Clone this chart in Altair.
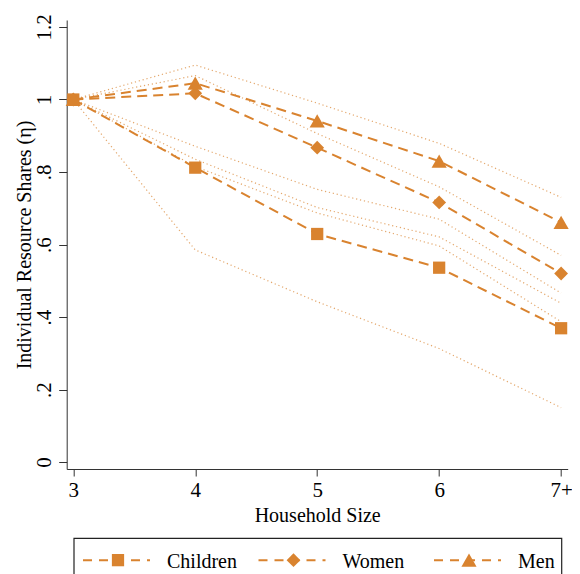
import altair as alt
import pandas as pd

# ---------------- data ----------------
sizes = ["3", "4", "5", "6", "7+"]
size_pos = [3, 4, 5, 6, 7]
groups = ["Children", "Women", "Men"]
shapes = ["square", "diamond", "triangle-up"]

children = [1.0, 0.812, 0.629, 0.536, 0.369]
women = [1.0, 1.017, 0.867, 0.716, 0.520]
men = [1.0, 1.045, 0.941, 0.830, 0.661]

bound_1 = [1.0, 1.095, 0.990, 0.879, 0.730]
bound_2 = [1.0, 1.066, 0.906, 0.759, 0.570]
bound_3 = [1.0, 0.871, 0.752, 0.670, 0.466]
bound_4 = [1.0, 0.835, 0.702, 0.621, 0.438]
bound_5 = [1.0, 0.815, 0.687, 0.596, 0.387]
bound_6 = [1.0, 0.585, 0.442, 0.313, 0.150]

y_ticks = [0, 0.2, 0.4, 0.6, 0.8, 1.0, 1.2]
y_tick_labels = ["0", ".2", ".4", ".6", ".8", "1", "1.2"]

# ---------------- styling ----------------
ORANGE = "#D9832F"
FONT = "Liberation Serif"
FS_LAB = 21
FS_TIT = 20
W, H = 501, 449

series = {"Children": children, "Women": women, "Men": men}
rows = []
for g, vals in series.items():
    for p, lab, v in zip(size_pos, sizes, vals):
        rows.append({"pos": p, "size": lab, "group": g, "value": v})
df = pd.DataFrame(rows)

bounds = [bound_1, bound_2, bound_3, bound_4, bound_5, bound_6]
brows = []
for i, vals in enumerate(bounds):
    for p, v in zip(size_pos, vals):
        brows.append({"pos": p, "bound": f"b{i+1}", "value": v})
bdf = pd.DataFrame(brows)

x_label_expr = " : ".join([f"datum.value == {p} ? '{s}'" for p, s in zip(size_pos, sizes)]) + " : datum.label"
y_label_expr = " : ".join([f"abs(datum.value - {v}) < 0.001 ? '{s}'" for v, s in zip(y_ticks, y_tick_labels)]) + " : datum.label"

x_scale = alt.Scale(domain=[2.946, 7.054], nice=False, zero=False)
y_scale = alt.Scale(domain=[-0.0193, 1.2193], nice=False, zero=False)

x_axis = alt.Axis(
    values=size_pos, labelExpr=x_label_expr, title="Household Size", grid=False,
    tickSize=7, labelPadding=3, titlePadding=5, labelFlush=False,
    labelFont=FONT, labelFontSize=FS_LAB, titleFont=FONT, titleFontSize=FS_TIT,
    titleFontWeight="normal", labelColor="black", titleColor="black",
    domainColor="#333333", tickColor="#333333",
)
y_axis = alt.Axis(
    values=y_ticks, labelExpr=y_label_expr,
    title="Individual Resource Shares (\u03b7)", grid=False,
    tickSize=8, labelAngle=270, labelAlign="center", labelBaseline="alphabetic",
    labelPadding=8, titlePadding=-1, labelFlush=False,
    labelFont=FONT, labelFontSize=FS_LAB, titleFont=FONT, titleFontSize=FS_TIT,
    titleFontWeight="normal", labelColor="black", titleColor="black",
    domainColor="#333333", tickColor="#333333",
)

X = alt.X("pos:Q", scale=x_scale, axis=x_axis)
Y = alt.Y("value:Q", scale=y_scale, axis=y_axis)

shape_scale = alt.Scale(domain=groups, range=shapes)
size_scale = alt.Scale(domain=groups, range=[150, 230, 210])

dotted = alt.Chart(bdf).mark_line(
    color=ORANGE, strokeWidth=1.2, strokeDash=[1.2, 2.8], opacity=0.7
).encode(x=X, y=Y, detail="bound:N")

dashed = alt.Chart(df).mark_line(
    color=ORANGE, strokeWidth=2, strokeDash=[10, 6]
).encode(x=X, y=Y, detail="group:N")

points = alt.Chart(df).mark_point(
    filled=True, color=ORANGE, opacity=1
).encode(
    x=X, y=Y,
    shape=alt.Shape("group:N", scale=shape_scale, legend=None),
    size=alt.Size("group:N", scale=size_scale, legend=None),
)

main = alt.layer(dotted, dashed, points)

# ---------------- legend (drawn below the plot) ----------------
leg_rows = []
for i, g in enumerate(groups):
    start = 16.3 + i * 175.5
    leg_rows.append({"group": g, "x0": start, "x1": start + 67, "xm": start + 35,
                     "xt": start + 84, "y": 0.5})
ldf = pd.DataFrame(leg_rows)
box = pd.DataFrame([{"x0": 7.3, "x1": 495.0, "y0": 0.0, "y1": 1.0}])

lx_scale = alt.Scale(domain=[0, W], range=[0, W], nice=False, zero=False)
ly_scale = alt.Scale(domain=[0, 1], range=[562, 518.3], nice=False, zero=False)

leg_box = alt.Chart(box).mark_rect(fill="white", stroke="#222222", strokeWidth=1.2).encode(
    x=alt.X("x0:Q", scale=lx_scale, axis=None), x2="x1:Q",
    y=alt.Y("y0:Q", scale=ly_scale, axis=None), y2="y1:Q",
)
leg_line = alt.Chart(ldf).mark_rule(color=ORANGE, strokeWidth=2, strokeDash=[9, 7]).encode(
    x=alt.X("x0:Q", scale=lx_scale, axis=None), x2="x1:Q",
    y=alt.Y("y:Q", scale=ly_scale, axis=None),
)
leg_pt = alt.Chart(ldf).mark_point(filled=True, color=ORANGE, opacity=1).encode(
    x=alt.X("xm:Q", scale=lx_scale, axis=None),
    y=alt.Y("y:Q", scale=ly_scale, axis=None),
    shape=alt.Shape("group:N", scale=shape_scale, legend=None),
    size=alt.Size("group:N", scale=size_scale, legend=None),
)
leg_txt = alt.Chart(ldf).mark_text(
    align="left", baseline="middle", font=FONT, fontSize=FS_TIT, color="black", dy=2
).encode(
    x=alt.X("xt:Q", scale=lx_scale, axis=None),
    y=alt.Y("y:Q", scale=ly_scale, axis=None),
    text="group:N",
)
legend = alt.layer(leg_box, leg_line, leg_pt, leg_txt)

chart = alt.layer(main, legend).resolve_scale(x="independent", y="independent").properties(
    width=W, height=H,
    autosize=alt.AutoSizeParams(type="none"),
    padding={"left": 58.7, "top": 12, "right": 4.3, "bottom": 105},
    background="white",
).configure_view(stroke=None)

chart.save("out.html", embed_options={"renderer": "svg", "actions": False})
